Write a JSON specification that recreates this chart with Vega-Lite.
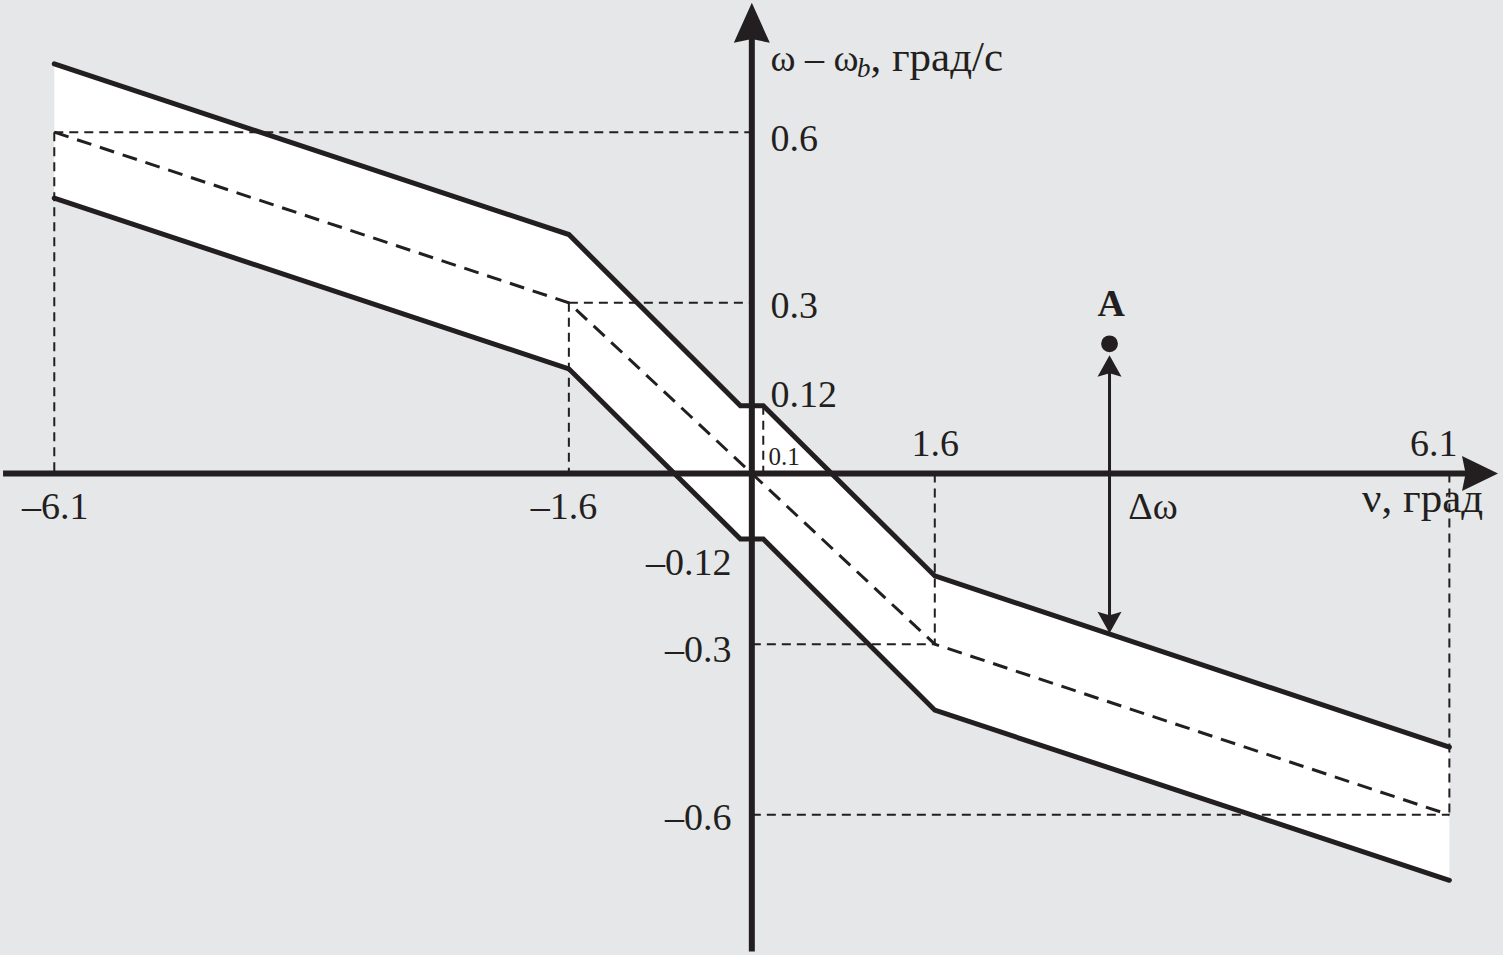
{
  "$schema": "https://vega.github.io/schema/vega-lite/v6.json",
  "width": 1503,
  "height": 955,
  "autosize": {"type": "fit", "contains": "padding"},
  "padding": 0,
  "background": "#e6e7e8",
  "config": {"view": {"stroke": null}},
  "datasets": {
    "band": [
      {"x": -6.1, "hi": 0.72, "lo": 0.484},
      {"x": -1.6, "hi": 0.42, "lo": 0.184},
      {"x": -0.1, "hi": 0.119, "lo": -0.115},
      {"x": 0.1, "hi": 0.119, "lo": -0.115},
      {"x": 1.6, "hi": -0.18, "lo": -0.416},
      {"x": 6.1, "hi": -0.481, "lo": -0.715}
    ],
    "mid": [
      {"x": -6.1, "y": 0.6},
      {"x": -1.6, "y": 0.3},
      {"x": 1.6, "y": -0.3},
      {"x": 6.1, "y": -0.6}
    ],
    "guides": [
      {"x": -6.1, "y": 0.6, "x2": 0, "y2": 0.6},
      {"x": -6.1, "y": 0.6, "x2": -6.1, "y2": 0},
      {"x": -1.6, "y": 0.3, "x2": 0, "y2": 0.3},
      {"x": -1.6, "y": 0.3, "x2": -1.6, "y2": 0},
      {"x": 0.1, "y": 0.119, "x2": 0.1, "y2": 0},
      {"x": 0, "y": -0.3, "x2": 1.6, "y2": -0.3},
      {"x": 1.6, "y": 0, "x2": 1.6, "y2": -0.3},
      {"x": 0, "y": -0.6, "x2": 6.1, "y2": -0.6},
      {"x": 6.1, "y": 0, "x2": 6.1, "y2": -0.6}
    ],
    "axes": [
      {"x": -6.548, "y": 0, "x2": 6.25, "y2": 0},
      {"x": 0, "y": -0.84, "x2": 0, "y2": 0.78}
    ],
    "arrowA": [
      {"x": 3.128, "y": 0.2, "x2": 3.128, "y2": -0.25}
    ],
    "heads": [
      {"x": 0, "y": 0.7922, "dir": "yaxis"},
      {"x": 6.368, "y": 0, "dir": "xaxis"},
      {"x": 3.128, "y": 0.189, "dir": "up"},
      {"x": 3.128, "y": -0.2618, "dir": "down"}
    ],
    "dot": [
      {"x": 3.128, "y": 0.228}
    ],
    "texts": [
      {"label": "ω – ω", "x": 0.1634, "y": 0.7068, "kind": "main"},
      {"label": ", град/с", "x": 1.037, "y": 0.7068, "kind": "cyr"},
      {"label": "0.6", "x": 0.1634, "y": 0.5674, "kind": "main"},
      {"label": "0.3", "x": 0.1634, "y": 0.274, "kind": "main"},
      {"label": "0.12", "x": 0.1634, "y": 0.1177, "kind": "main"},
      {"label": "1.6", "x": 1.3956, "y": 0.0305, "kind": "main"},
      {"label": "6.1", "x": 5.7565, "y": 0.0305, "kind": "main"},
      {"label": "–6.1", "x": -6.382, "y": -0.0793, "kind": "main"},
      {"label": "–1.6", "x": -1.934, "y": -0.0793, "kind": "main"},
      {"label": "ν, град", "x": 5.337, "y": -0.0671, "kind": "cyr"},
      {"label": "Δω", "x": 3.292, "y": -0.0793, "kind": "main"},
      {"label": "–0.12", "x": -0.1774, "y": -0.1787, "kind": "right"},
      {"label": "–0.3", "x": -0.1774, "y": -0.3321, "kind": "right"},
      {"label": "–0.6", "x": -0.1774, "y": -0.6267, "kind": "right"},
      {"label": "0.1", "x": 0.146, "y": 0.0148, "kind": "small"},
      {"label": "b", "x": 0.92, "y": 0.6963, "kind": "sub"},
      {"label": "A", "x": 3.1434, "y": 0.2763, "kind": "bold"}
    ]
  },
  "encoding": {
    "x": {"field": "x", "type": "quantitative", "scale": {"domain": [-6.566, 6.569], "nice": false, "zero": false}, "axis": null},
    "y": {"field": "y", "type": "quantitative", "scale": {"domain": [-0.8323, 0.8323], "nice": false, "zero": false}, "axis": null}
  },
  "layer": [
    {
      "data": {"name": "band"},
      "mark": {"type": "area", "color": "#ffffff", "opacity": 1},
      "encoding": {
        "y": {"field": "hi", "type": "quantitative"},
        "y2": {"field": "lo"}
      }
    },
    {
      "data": {"name": "guides"},
      "mark": {"type": "rule", "color": "#231f20", "strokeWidth": 2, "strokeDash": [9, 6]},
      "encoding": {
        "x2": {"field": "x2"},
        "y2": {"field": "y2"}
      }
    },
    {
      "data": {"name": "mid"},
      "mark": {"type": "line", "color": "#231f20", "strokeWidth": 3, "strokeDash": [15, 9]},
      "encoding": {}
    },
    {
      "data": {"name": "band"},
      "mark": {"type": "line", "color": "#231f20", "strokeWidth": 5, "strokeCap": "round"},
      "encoding": {"y": {"field": "hi", "type": "quantitative"}}
    },
    {
      "data": {"name": "band"},
      "mark": {"type": "line", "color": "#231f20", "strokeWidth": 5, "strokeCap": "round"},
      "encoding": {"y": {"field": "lo", "type": "quantitative"}}
    },
    {
      "data": {"name": "axes"},
      "mark": {"type": "rule", "color": "#231f20", "strokeWidth": 6},
      "encoding": {
        "x2": {"field": "x2"},
        "y2": {"field": "y2"}
      }
    },
    {
      "data": {"name": "arrowA"},
      "mark": {"type": "rule", "color": "#231f20", "strokeWidth": 3},
      "encoding": {
        "x2": {"field": "x2"},
        "y2": {"field": "y2"}
      }
    },
    {
      "data": {"name": "heads"},
      "transform": [{"filter": "datum.dir === 'yaxis'"}],
      "mark": {"type": "point", "filled": true, "size": 1296, "color": "#231f20", "opacity": 1, "strokeWidth": 0, "shape": "M0,-1.11L1,1.11L0,0.9L-1,1.11Z"}
    },
    {
      "data": {"name": "heads"},
      "transform": [{"filter": "datum.dir === 'xaxis'"}],
      "mark": {"type": "point", "filled": true, "size": 1296, "color": "#231f20", "opacity": 1, "strokeWidth": 0, "shape": "M1,0L-1,0.97L-0.8,0L-1,-0.97Z"}
    },
    {
      "data": {"name": "heads"},
      "transform": [{"filter": "datum.dir === 'up'"}],
      "mark": {"type": "point", "filled": true, "size": 576, "color": "#231f20", "opacity": 1, "strokeWidth": 0, "shape": "M0,-0.9L1,0.9L0,0.6L-1,0.9Z"}
    },
    {
      "data": {"name": "heads"},
      "transform": [{"filter": "datum.dir === 'down'"}],
      "mark": {"type": "point", "filled": true, "size": 576, "color": "#231f20", "opacity": 1, "strokeWidth": 0, "shape": "M0,0.9L1,-0.9L0,-0.6L-1,-0.9Z"}
    },
    {
      "data": {"name": "dot"},
      "mark": {"type": "point", "shape": "circle", "filled": true, "size": 283, "color": "#231f20", "opacity": 1, "strokeWidth": 0}
    },
    {
      "data": {"name": "texts"},
      "transform": [{"filter": "datum.kind === 'main'"}],
      "mark": {"type": "text", "align": "left", "baseline": "alphabetic", "font": "Liberation Serif", "fontSize": 38, "color": "#231f20"},
      "encoding": {"text": {"field": "label"}}
    },
    {
      "data": {"name": "texts"},
      "transform": [{"filter": "datum.kind === 'cyr'"}],
      "mark": {"type": "text", "align": "left", "baseline": "alphabetic", "font": "Liberation Serif", "fontSize": 43, "color": "#231f20"},
      "encoding": {"text": {"field": "label"}}
    },
    {
      "data": {"name": "texts"},
      "transform": [{"filter": "datum.kind === 'right'"}],
      "mark": {"type": "text", "align": "right", "baseline": "alphabetic", "font": "Liberation Serif", "fontSize": 38, "color": "#231f20"},
      "encoding": {"text": {"field": "label"}}
    },
    {
      "data": {"name": "texts"},
      "transform": [{"filter": "datum.kind === 'small'"}],
      "mark": {"type": "text", "align": "left", "baseline": "alphabetic", "font": "Liberation Serif", "fontSize": 25, "color": "#231f20"},
      "encoding": {"text": {"field": "label"}}
    },
    {
      "data": {"name": "texts"},
      "transform": [{"filter": "datum.kind === 'sub'"}],
      "mark": {"type": "text", "align": "left", "baseline": "alphabetic", "font": "Liberation Serif", "fontSize": 27, "fontStyle": "italic", "color": "#231f20"},
      "encoding": {"text": {"field": "label"}}
    },
    {
      "data": {"name": "texts"},
      "transform": [{"filter": "datum.kind === 'bold'"}],
      "mark": {"type": "text", "align": "center", "baseline": "alphabetic", "font": "Liberation Serif", "fontSize": 38, "fontWeight": "bold", "color": "#231f20"},
      "encoding": {"text": {"field": "label"}}
    }
  ]
}
